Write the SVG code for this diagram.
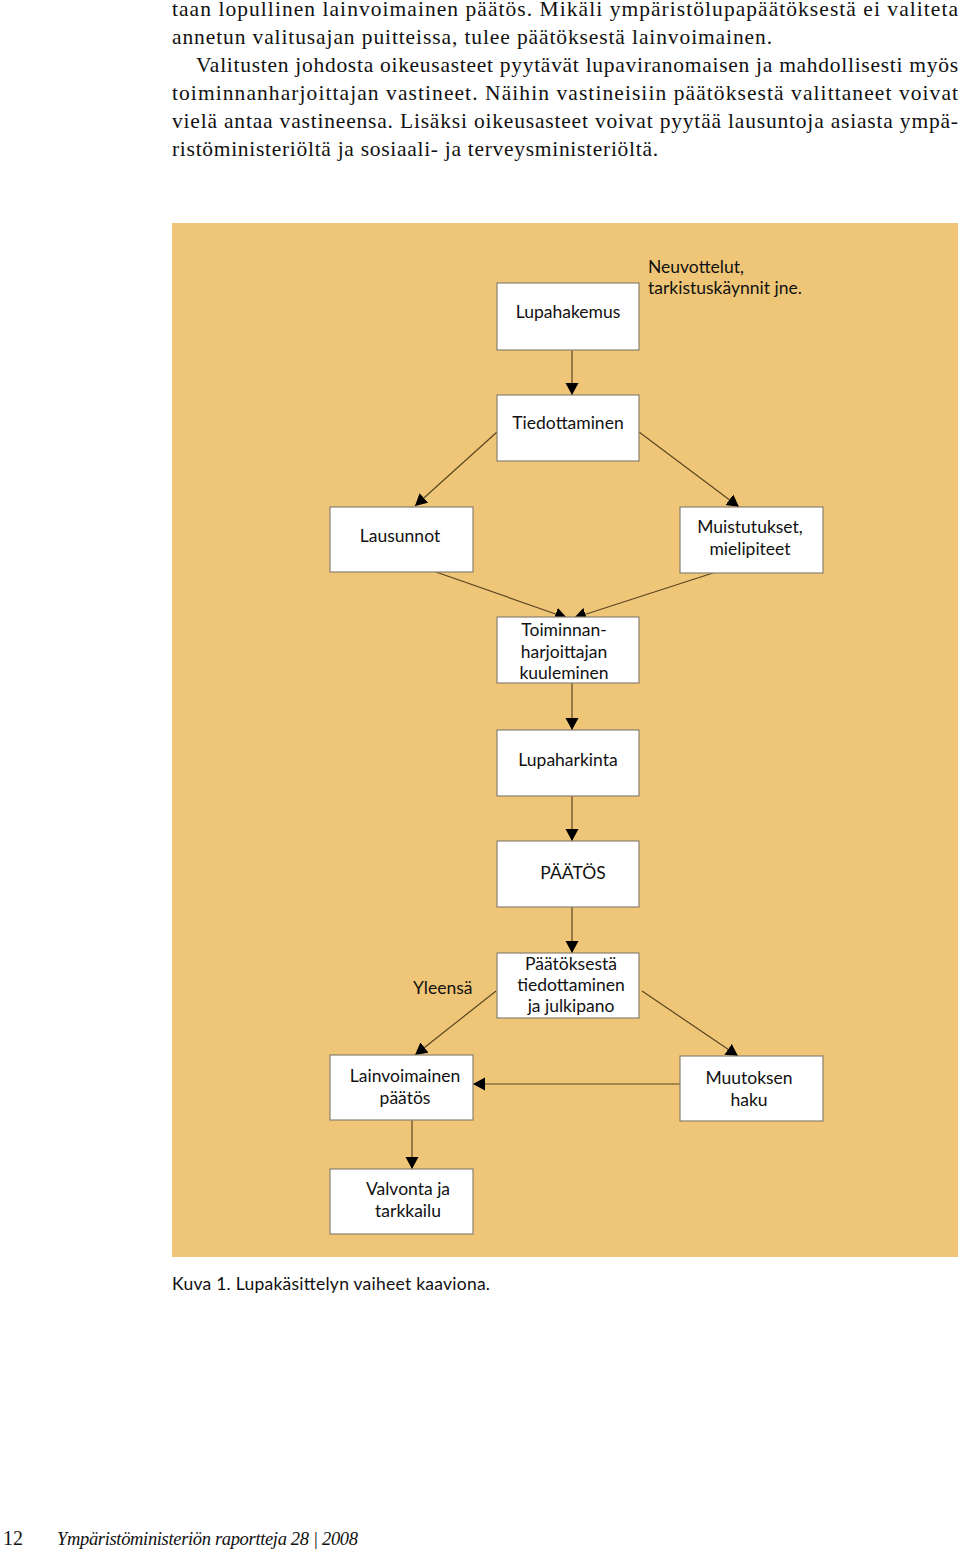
<svg xmlns="http://www.w3.org/2000/svg" width="960" height="1550" viewBox="0 0 960 1550">
<style>
.body{font-family:"Liberation Serif",serif;font-size:21.5px;fill:#111}
.box{fill:#fff;stroke:#8a8070;stroke-width:1.2}
.lbl{font-family:Lato,"Open Sans",sans-serif;font-size:17.5px;fill:#111;text-anchor:middle}
.free{font-family:Lato,"Open Sans",sans-serif;font-size:17.5px;fill:#111}
.con{stroke:#5a4522;stroke-width:1.2;fill:none;marker-end:url(#ah)}
</style>
<defs>
<marker id="ah" markerUnits="userSpaceOnUse" markerWidth="14" markerHeight="14" refX="12" refY="7" orient="auto">
<path d="M0,0.5 L12,7 L0,13.5 Z" fill="#000"/>
</marker>
</defs>
<rect width="960" height="1550" fill="#fff"/>
<g id="bodytext">
<text class="body" x="172" y="16" textLength="786" lengthAdjust="spacing">taan lopullinen lainvoimainen päätös. Mikäli ympäristölupapäätöksestä ei valiteta</text>
<text class="body" x="172" y="44" textLength="600" lengthAdjust="spacing">annetun valitusajan puitteissa, tulee päätöksestä lainvoimainen.</text>
<text class="body" x="196" y="72" textLength="762" lengthAdjust="spacing">Valitusten johdosta oikeusasteet pyytävät lupaviranomaisen ja mahdollisesti myös</text>
<text class="body" x="172" y="100" textLength="786" lengthAdjust="spacing">toiminnanharjoittajan vastineet. Näihin vastineisiin päätöksestä valittaneet voivat</text>
<text class="body" x="172" y="128" textLength="786" lengthAdjust="spacing">vielä antaa vastineensa. Lisäksi oikeusasteet voivat pyytää lausuntoja asiasta ympä-</text>
<text class="body" x="172" y="156" textLength="486" lengthAdjust="spacing">ristöministeriöltä ja sosiaali- ja terveysministeriöltä.</text>
</g>
<rect id="panel" x="172" y="223" width="786" height="1034" fill="#EFC677"/>
<g id="connectors">
<line class="con" x1="572" y1="350" x2="572" y2="395"/>
<line class="con" x1="497" y1="432" x2="415" y2="506"/>
<line class="con" x1="639" y1="432" x2="739" y2="507"/>
<line class="con" x1="436" y1="572" x2="567" y2="618"/>
<line class="con" x1="713" y1="573" x2="574" y2="618"/>
<line class="con" x1="572" y1="683" x2="572" y2="730"/>
<line class="con" x1="572" y1="796" x2="572" y2="841"/>
<line class="con" x1="572" y1="907" x2="572" y2="953"/>
<line class="con" x1="496" y1="991" x2="415" y2="1055"/>
<line class="con" x1="642" y1="991" x2="738" y2="1056"/>
<line class="con" x1="680" y1="1084" x2="473" y2="1084"/>
<line class="con" x1="412" y1="1120" x2="412" y2="1169"/>
</g>
<g id="n-lupahakemus"><rect class="box" x="497" y="283" width="142" height="67"/><text class="lbl" x="568" y="318">Lupahakemus</text></g>
<g id="n-neuvottelut"><text class="free" x="648" y="273">Neuvottelut,</text><text class="free" x="648" y="294">tarkistuskäynnit jne.</text></g>
<g id="n-tiedottaminen"><rect class="box" x="497" y="395" width="142" height="66"/><text class="lbl" x="568" y="429">Tiedottaminen</text></g>
<g id="n-lausunnot"><rect class="box" x="330" y="507" width="143" height="65"/><text class="lbl" x="400" y="542">Lausunnot</text></g>
<g id="n-muistutukset"><rect class="box" x="680" y="507" width="143" height="66"/><text class="lbl" x="750" y="533">Muistutukset,</text><text class="lbl" x="750" y="555">mielipiteet</text></g>
<g id="n-kuuleminen"><rect class="box" x="497" y="617" width="142" height="66"/><text class="lbl" x="564" y="636">Toiminnan-</text><text class="lbl" x="564" y="658">harjoittajan</text><text class="lbl" x="564" y="679">kuuleminen</text></g>
<g id="n-lupaharkinta"><rect class="box" x="497" y="730" width="142" height="66"/><text class="lbl" x="568" y="766">Lupaharkinta</text></g>
<g id="n-paatos"><rect class="box" x="497" y="841" width="142" height="66"/><text class="lbl" x="573" y="879">PÄÄTÖS</text></g>
<g id="n-julkipano"><rect class="box" x="497" y="953" width="142" height="65"/><text class="lbl" x="571" y="970">Päätöksestä</text><text class="lbl" x="571" y="991">tiedottaminen</text><text class="lbl" x="571" y="1012">ja julkipano</text></g>
<g id="n-yleensa"><text class="free" x="413" y="994">Yleensä</text></g>
<g id="n-lainvoimainen"><rect class="box" x="330" y="1055" width="143" height="65"/><text class="lbl" x="405" y="1082">Lainvoimainen</text><text class="lbl" x="405" y="1104">päätös</text></g>
<g id="n-muutoksenhaku"><rect class="box" x="680" y="1056" width="143" height="65"/><text class="lbl" x="749" y="1084">Muutoksen</text><text class="lbl" x="749" y="1106">haku</text></g>
<g id="n-valvonta"><rect class="box" x="330" y="1169" width="143" height="65"/><text class="lbl" x="408" y="1195">Valvonta ja</text><text class="lbl" x="408" y="1217">tarkkailu</text></g>
<text class="free" x="172" y="1290" textLength="318" lengthAdjust="spacing">Kuva 1. Lupakäsittelyn vaiheet kaaviona.</text>
<g id="footer">
<text x="3" y="1545" style="font-family:'Liberation Serif',serif;font-size:20px;fill:#111">12</text>
<text x="57" y="1545" textLength="301" lengthAdjust="spacing" style="font-family:'Liberation Serif',serif;font-size:18.5px;font-style:italic;fill:#111">Ympäristöministeriön raportteja  28 | 2008</text>
</g>
</svg>
